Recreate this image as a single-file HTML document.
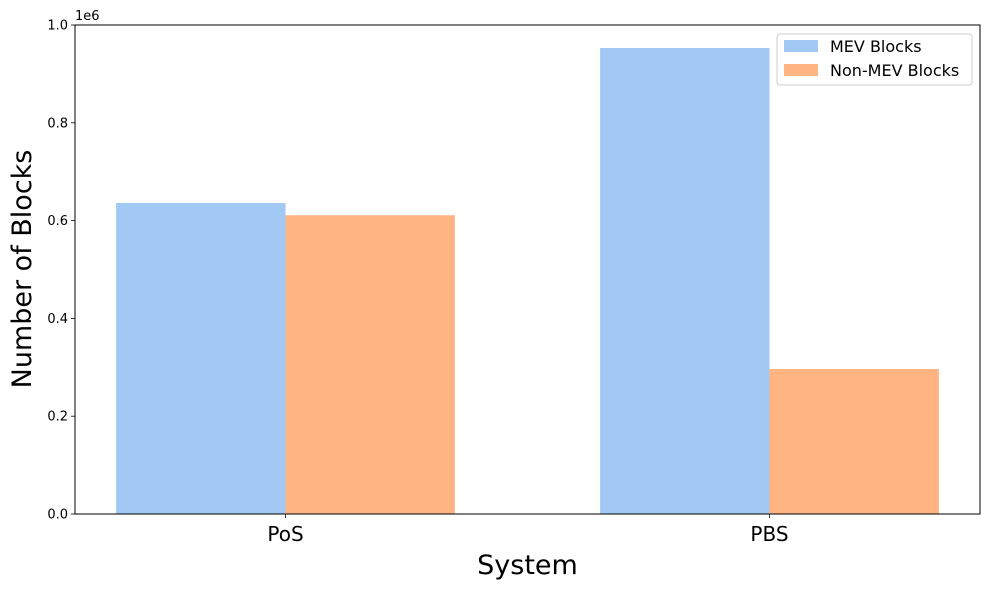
<!DOCTYPE html>
<html><head><meta charset="utf-8"><style>
body{margin:0;background:#fff;font-family:"DejaVu Sans","Liberation Sans",sans-serif}
</style></head><body>
<svg id="chart" width="989" height="590" xmlns="http://www.w3.org/2000/svg" font-family="DejaVu Sans, Liberation Sans, sans-serif"></svg>
<script>
const categories=["PoS","PBS"];
const mevValues=[636000,953000];
const nonMevValues=[611000,296500];
const yTicks=[0,0.2,0.4,0.6,0.8,1.0];
const yTickLabels=["0.0","0.2","0.4","0.6","0.8","1.0"];
const NS="http://www.w3.org/2000/svg";
const svg=document.getElementById('chart');
const L=75,R=980,T=25,B=514;
const xMin=-0.435,xMax=1.435,yMax=1e6;
const bw=0.35;
function xs(v){return L+(v-xMin)/(xMax-xMin)*(R-L);}
function ys(v){return B-v/yMax*(B-T);}
function mk(tag,attrs,parent){const e=document.createElementNS(NS,tag);for(const k in attrs)e.setAttribute(k,attrs[k]);(parent||svg).appendChild(e);return e;}
function txt(s,attrs){const e=mk('text',attrs);e.textContent=s;return e;}
categories.forEach((c,i)=>{
  let r=mk('rect',{x:xs(i-bw),y:ys(mevValues[i]),width:xs(i)-xs(i-bw),height:B-ys(mevValues[i]),fill:'#a1c9f4'});
  
  
  let r2=mk('rect',{x:xs(i),y:ys(nonMevValues[i]),width:xs(i+bw)-xs(i),height:B-ys(nonMevValues[i]),fill:'#ffb482'});
  
  
  mk('line',{x1:xs(i),x2:xs(i),y1:B,y2:B+4,stroke:'#000','stroke-width':0.8});
  let t=txt(c,{x:xs(i),y:B+27,'font-size':20,'text-anchor':'middle'});
  
  
});
yTicks.forEach((v,i)=>{
  mk('line',{x1:L-4,x2:L,y1:ys(v*yMax),y2:ys(v*yMax),stroke:'#000','stroke-width':0.8});
  let t=txt(yTickLabels[i],{x:L-7,y:ys(v*yMax)+4.5,'font-size':13,'text-anchor':'end'});
  
  
});
let fr=mk('rect',{x:L,y:T,width:R-L,height:B-T,fill:'none',stroke:'#000','stroke-width':1});


let off=txt('1e6',{x:L,y:T-5,'font-size':13});


let xt=txt('System',{x:(L+R)/2,y:574,'font-size':27,'text-anchor':'middle'});


let yt=txt('Number of Blocks',{x:0,y:0,'font-size':27,'text-anchor':'middle',transform:'translate(31,269) rotate(-90)'});


const lg=mk('g',{});


mk('rect',{x:777,y:34,width:195,height:51,rx:3,fill:'#fff',stroke:'#ccc'},lg);
mk('rect',{x:784,y:40,width:34,height:12,fill:'#a1c9f4'},lg);
mk('rect',{x:784,y:64,width:34,height:12,fill:'#ffb482'},lg);
const l1=mk('text',{x:830,y:52,'font-size':16},lg);l1.textContent='MEV Blocks';


const l2=mk('text',{x:830,y:76,'font-size':16},lg);l2.textContent='Non-MEV Blocks';


</script>
</body></html>
